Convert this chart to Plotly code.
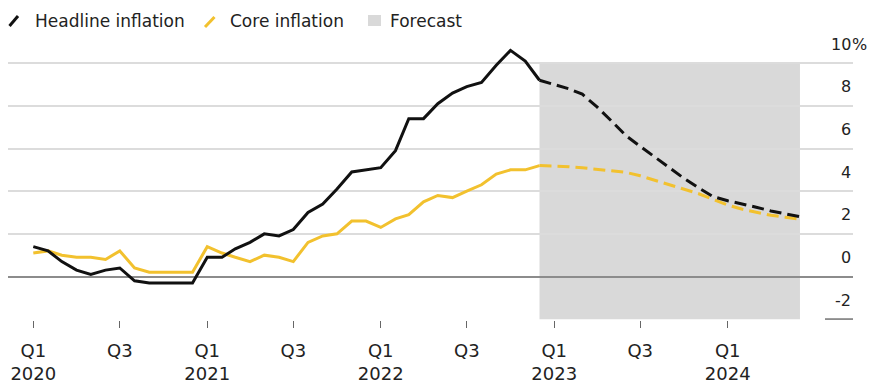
import pandas as pd
import plotly.graph_objects as go

# ---- data -------------------------------------------------------------
months_actual = pd.date_range("2020-01-01", "2022-12-01", freq="MS").strftime("%Y-%m-%d").tolist()
months_forecast = pd.date_range("2022-12-01", "2024-06-01", freq="MS").strftime("%Y-%m-%d").tolist()

headline_actual = [1.4, 1.2, 0.7, 0.3, 0.1, 0.3, 0.4, -0.2, -0.3, -0.3, -0.3, -0.3,
                   0.9, 0.9, 1.3, 1.6, 2.0, 1.9, 2.2, 3.0, 3.4, 4.1, 4.9, 5.0,
                   5.1, 5.9, 7.4, 7.4, 8.1, 8.6, 8.9, 9.1, 9.9, 10.6, 10.1, 9.2]
core_actual = [1.1, 1.2, 1.0, 0.9, 0.9, 0.8, 1.2, 0.4, 0.2, 0.2, 0.2, 0.2,
               1.4, 1.1, 0.9, 0.7, 1.0, 0.9, 0.7, 1.6, 1.9, 2.0, 2.6, 2.6,
               2.3, 2.7, 2.9, 3.5, 3.8, 3.7, 4.0, 4.3, 4.8, 5.0, 5.0, 5.2]

headline_forecast = [9.2, 9.0, 8.8, 8.55, 7.95, 7.3, 6.6, 6.1, 5.6, 5.1, 4.6, 4.15,
                     3.75, 3.55, 3.4, 3.25, 3.07, 2.93, 2.8]
core_forecast = [5.2, 5.18, 5.15, 5.1, 5.03, 4.97, 4.88, 4.72, 4.5, 4.3, 4.1, 3.88,
                 3.62, 3.35, 3.15, 3.0, 2.87, 2.78, 2.68]

forecast_start = "2022-12-01"
forecast_end = "2024-06-01"

x_tickvals = ["2020-01-01", "2020-07-01", "2021-01-01", "2021-07-01", "2022-01-01",
              "2022-07-01", "2023-01-01", "2023-07-01", "2024-01-01"]
x_ticktext = ["Q1<br>2020", "Q3", "Q1<br>2021", "Q3", "Q1<br>2022",
              "Q3", "Q1<br>2023", "Q3", "Q1<br>2024"]
y_gridvals = [0, 2, 4, 6, 8, 10]
y_labelvals = [10, 8, 6, 4, 2, 0, -2]

# ---- styling ----------------------------------------------------------
BLACK = "#111111"
YELLOW = "#F2C12E"
SHADE = "#D9D9D9"
TEXT = "#222222"
FONT = "DejaVu Sans"

W, H = 874, 385
ML, MR, MT, MB = 8, 21, 35, 65
PW, PH = W - ML - MR, H - MT - MB

# vertical scale: 0 sits at 276.5px, 21.33px per percentage point
ZERO_PX, UNIT_PX = 276.5, 21.33
y_range = [(ZERO_PX - (H - MB)) / UNIT_PX, (ZERO_PX - MT) / UNIT_PX]


def px(xp):
    return (xp - ML) / PW


def py(yp):
    return (H - MB - yp) / PH


fig = go.Figure()

fig.add_trace(go.Scatter(x=months_actual, y=core_actual, mode="lines",
                         line=dict(color=YELLOW, width=3)))
fig.add_trace(go.Scatter(x=months_forecast, y=core_forecast, mode="lines",
                         line=dict(color=YELLOW, width=3, dash="12px,6px")))
fig.add_trace(go.Scatter(x=months_actual, y=headline_actual, mode="lines",
                         line=dict(color=BLACK, width=3)))
fig.add_trace(go.Scatter(x=months_forecast, y=headline_forecast, mode="lines",
                         line=dict(color=BLACK, width=3, dash="12px,6px")))

shapes = [
    # forecast window
    dict(type="rect", xref="x", yref="y", x0=forecast_start, x1=forecast_end,
         y0=-2, y1=10, fillcolor=SHADE, line_width=0, layer="below"),
    # short rule under the -2 label
    dict(type="line", xref="paper", yref="y", x0=px(825), x1=1.0, y0=-2, y1=-2,
         line=dict(color="#8c8c8c", width=2)),
    # legend glyphs
    dict(type="line", xref="paper", yref="paper", x0=px(9.5), y0=py(26), x1=px(18), y1=py(16),
         line=dict(color=BLACK, width=3)),
    dict(type="line", xref="paper", yref="paper", x0=px(205), y0=py(27), x1=px(214.5), y1=py(17),
         line=dict(color=YELLOW, width=3)),
    dict(type="rect", xref="paper", yref="paper", x0=px(368), y0=py(26), x1=px(381), y1=py(15),
         fillcolor=SHADE, line_width=0),
]

annotations = []
for label, xp in [("Headline inflation", 33), ("Core inflation", 228), ("Forecast", 388)]:
    annotations.append(dict(xref="paper", yref="paper", x=px(xp), y=py(20.5),
                            xanchor="left", yanchor="middle", text=label, showarrow=False,
                            font=dict(family=FONT, size=17, color=TEXT)))

for v in y_labelvals:
    annotations.append(dict(xref="paper", yref="y", x=1.0, y=v, yshift=19,
                            xanchor="right", yanchor="middle", text=str(v), showarrow=False,
                            font=dict(family=FONT, size=16, color=TEXT)))
    if v == y_labelvals[0]:
        annotations.append(dict(xref="paper", yref="y", x=1.0, y=v, yshift=19, xshift=-3,
                                xanchor="left", yanchor="middle", text="%", showarrow=False,
                                font=dict(family=FONT, size=16, color=TEXT)))

fig.update_layout(
    width=W, height=H, autosize=False,
    margin=dict(l=ML, r=MR, t=MT, b=MB),
    paper_bgcolor="white", plot_bgcolor="white",
    showlegend=False, hovermode=False,
    shapes=shapes, annotations=annotations,
    font=dict(family=FONT, color=TEXT),
)

fig.update_xaxes(
    type="date", range=["2019-11-08 19:00", "2024-09-20 14:00"],
    tickvals=x_tickvals, ticktext=x_ticktext,
    ticks="outside", ticklen=7, tickwidth=1, tickcolor="#666666",
    ticklabelstandoff=7, automargin=False,
    showgrid=False, zeroline=False, showline=False,
    tickfont=dict(family=FONT, size=18, color=TEXT),
)

fig.update_yaxes(
    range=y_range, automargin=False,
    tickvals=y_gridvals, showticklabels=False, ticks="",
    showgrid=True, gridcolor="#DCDCDC", gridwidth=1.5,
    zeroline=True, zerolinecolor="#8c8c8c", zerolinewidth=2,
)

fig.write_html("out.html")
